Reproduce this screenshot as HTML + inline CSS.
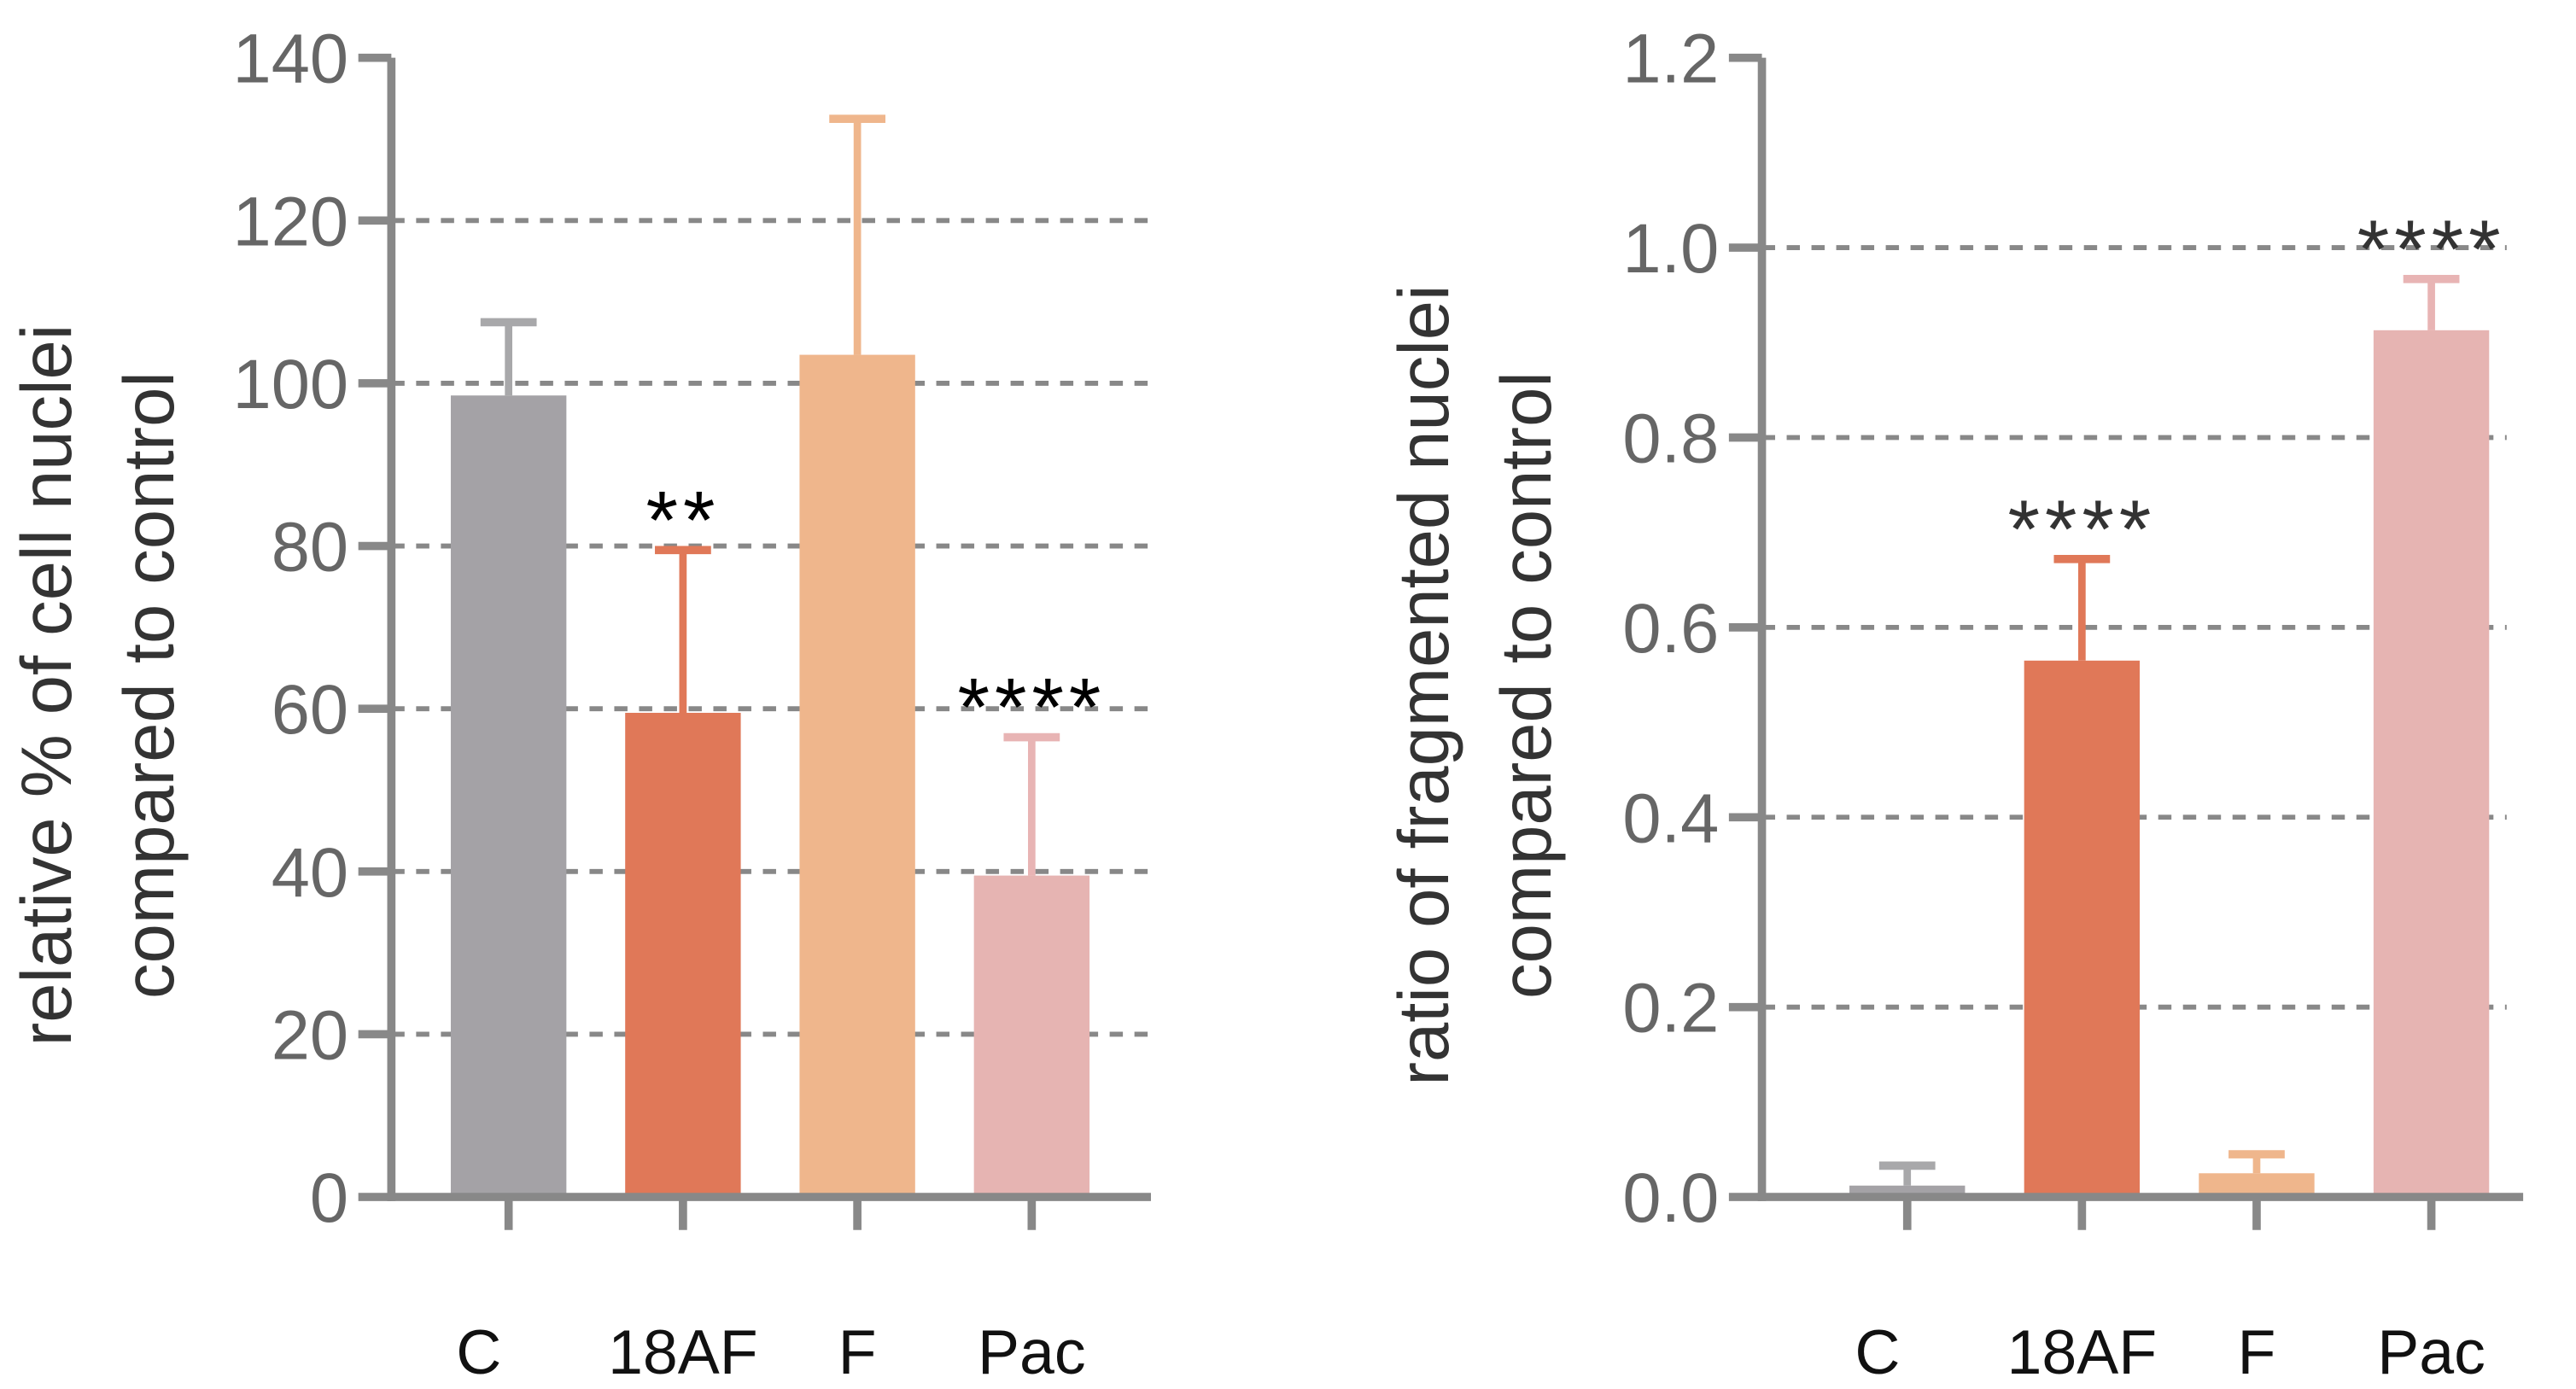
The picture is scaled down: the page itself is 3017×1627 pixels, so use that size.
<!DOCTYPE html>
<html><head><meta charset="utf-8">
<style>html,body{margin:0;padding:0;background:#fff;}svg{display:block;}</style>
</head><body>
<svg id="chart" width="3017" height="1627" viewBox="0 0 1560 841.3" preserveAspectRatio="none" xmlns="http://www.w3.org/2000/svg" font-family="Liberation Sans, Arial, sans-serif"></svg>
<script>
const categories = ["C", "18AF", "F", "Pac"];
const colors = ["#a4a2a6", "#e07858", "#efb68c", "#e6b4b2"];
const errColors = ["#a8a8aa", "#e07858", "#efb68c", "#e8b4b4"];
const leftValues = [98.5, 59.5, 103.5, 39.5];
const leftErrors = [9, 20, 29, 17];
const leftStars = ["", "**", "", "****"];
const leftTicks = [0, 20, 40, 60, 80, 100, 120, 140];
const rightValues = [0.012, 0.565, 0.025, 0.913];
const rightErrors = [0.021, 0.107, 0.02, 0.054];
const rightStars = ["", "****", "", "****"];
const rightTicks = [0.0, 0.2, 0.4, 0.6, 0.8, 1.0, 1.2];

const svg = document.getElementById('chart');
const NS = 'http://www.w3.org/2000/svg';
function mk(tag, attrs, text){const e=document.createElementNS(NS,tag);for(const k in attrs)e.setAttribute(k,attrs[k]);if(text!==undefined)e.textContent=text;svg.appendChild(e);return e;}

function drawPanel(p){
  const y0=725, yTop=35;
  const yScale=v=>y0-(v-p.min)/(p.max-p.min)*(y0-yTop);
  const xScale=i=>p.x0+p.firstOff+i*p.step;
  p.ticks.forEach((t,i)=>{
    if(i>0 && i<p.ticks.length-1){
      const g=mk('line',{x1:p.x0,x2:p.gridEnd,y1:yScale(t),y2:yScale(t),stroke:'#888',"stroke-width":3,"stroke-dasharray":"8 7"});
      
      
    }
  });
  categories.forEach((c,i)=>{
    const cx=xScale(i), v=p.values[i], e=p.errors[i], top=yScale(v+e);
    const el=mk('line',{x1:cx,x2:cx,y1:yScale(v),y2:top,stroke:errColors[i],"stroke-width":4.5});
    
    
    const cap=mk('line',{x1:cx-17,x2:cx+17,y1:top,y2:top,stroke:errColors[i],"stroke-width":5});
    
    
    const b=mk('rect',{x:cx-35,y:yScale(v),width:70,height:y0-yScale(v),fill:colors[i]});
    
    
    if(p.stars[i]){
      const s=mk('text',{x:cx,y:top-1,"text-anchor":"middle","font-size":50,"letter-spacing":3,fill:p.starColor},p.stars[i]);
      
      
    }
    const tk=mk('line',{x1:cx,x2:cx,y1:y0,y2:745,stroke:'#888',"stroke-width":5});
    
    
    const lb=mk('text',{x:cx-(i==0?18:0),y:832,"text-anchor":"middle","font-size":38,fill:'#111'},c);
    
    
  });
  const ya=mk('line',{x1:p.x0,x2:p.x0,y1:yTop,y2:y0+2.5,stroke:'#888',"stroke-width":5});
  
  
  const xa=mk('line',{x1:p.x0-2.5,x2:p.xEnd,y1:y0,y2:y0,stroke:'#888',"stroke-width":5});
  
  
  p.ticks.forEach(t=>{
    const l=mk('line',{x1:p.x0-20,x2:p.x0,y1:yScale(t),y2:yScale(t),stroke:'#888',"stroke-width":5});
    
    
    const tx=mk('text',{x:p.x0-26,y:yScale(t)+15,"text-anchor":"end","font-size":42,fill:'#666'},p.fmt(t));
    
    
  });
  p.title.forEach((line,k)=>{
    const tx=p.titleX[k];
    const t=mk('text',{x:0,y:0,transform:`translate(${tx},${p.titleY}) rotate(-90)`,"text-anchor":"middle","font-size":43,fill:'#333'},line);
    
    
  });
}
drawPanel({id:'left',x0:237,xEnd:697,gridEnd:697,firstOff:71,step:105.6,min:0,max:140,ticks:leftTicks,values:leftValues,errors:leftErrors,stars:leftStars,starColor:'#000',fmt:t=>String(t),title:["relative % of cell nuclei","compared to control"],titleX:[43,105],titleY:415});
drawPanel({id:'right',x0:1067,xEnd:1528,gridEnd:1518,firstOff:88,step:105.8,min:0,max:1.2,ticks:rightTicks,values:rightValues,errors:rightErrors,stars:rightStars,starColor:'#333',fmt:t=>t.toFixed(1),title:["ratio of fragmented nuclei","compared to control"],titleX:[877,939],titleY:415});
</script>
</body></html>
